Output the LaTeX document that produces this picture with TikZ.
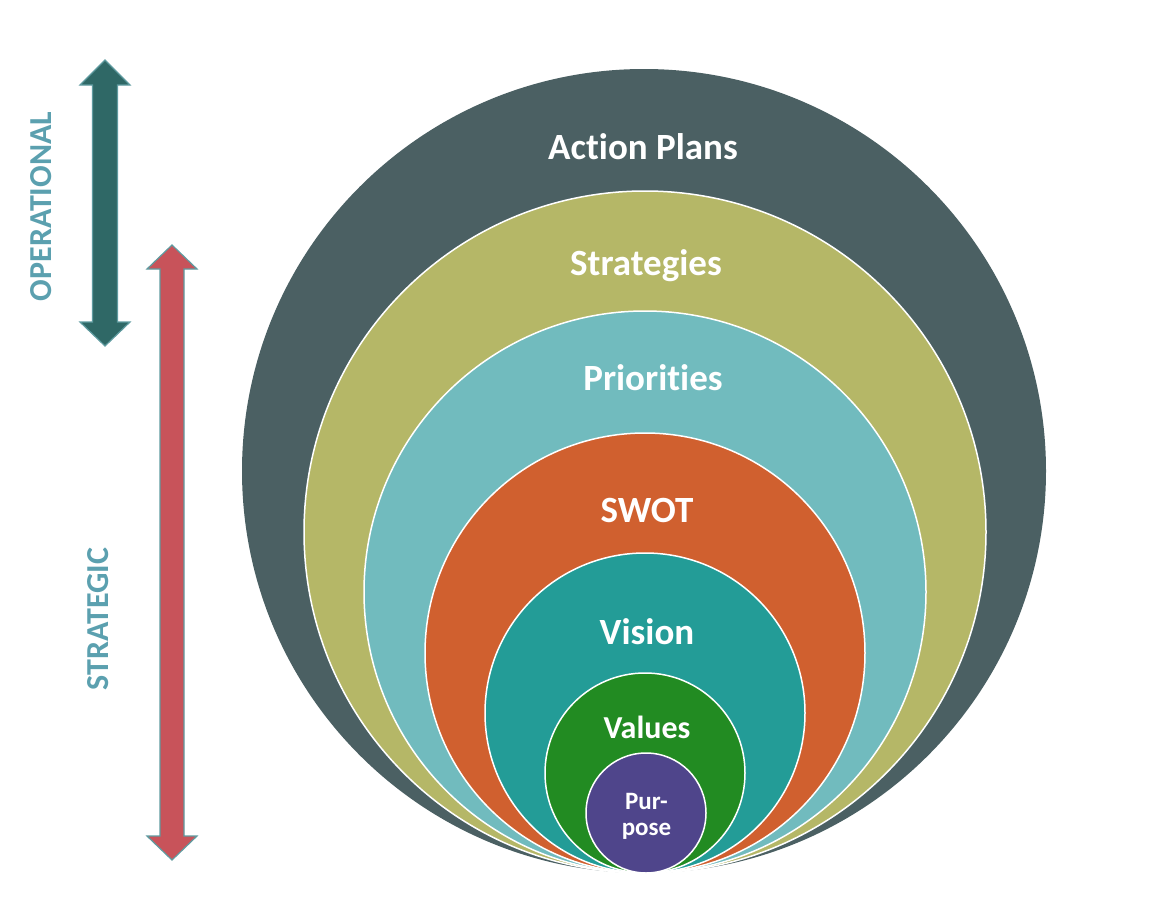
\documentclass[tikz,border=0pt]{standalone}
\usepackage{fontspec}
\setmainfont{Carlito}[Ligatures=NoCommon]
\usepackage{tikz}

\definecolor{actionc}{RGB}{75,96,99}
\definecolor{stratc}{RGB}{181,183,103}
\definecolor{prioc}{RGB}{113,187,190}
\definecolor{swotc}{RGB}{208,96,47}
\definecolor{visionc}{RGB}{35,156,151}
\definecolor{valuesc}{RGB}{34,139,34}
\definecolor{purposec}{RGB}{79,69,139}
\definecolor{sidetext}{RGB}{91,160,175}
\definecolor{operc}{RGB}{47,104,102}
\definecolor{stratarrowc}{RGB}{200,83,90}
\definecolor{arrowedge}{RGB}{95,155,160}

\begin{document}
\begin{tikzpicture}[
    x=1pt, y=-1pt,
    ring/.style={circle, draw=white, line width=1.5pt, inner sep=0pt},
    ringlabel/.style={text=white, anchor=base, inner sep=0pt, font=\bfseries\fontsize{37}{44}\selectfont},
    sidelabel/.style={text=sidetext, rotate=90, inner sep=0pt, font=\bfseries\fontsize{32}{38}\selectfont},
    bigarrow/.style={draw=arrowedge, line width=1.2pt, line join=miter}
]
    \useasboundingbox (0,0) rectangle (1168,911);

    % Nested circles, all touching at the bottom
    \node (action) [ring, draw=none, fill=actionc, minimum size=804pt] at (644,471) {};
    \node (strategies) [ring, fill=stratc, minimum size=682pt] at (645,532) {};
    \node (priorities) [ring, fill=prioc, minimum size=562pt] at (645,592) {};
    \node (swot) [ring, fill=swotc, minimum size=440pt] at (645,653) {};
    \node (vision) [ring, fill=visionc, minimum size=320pt] at (645,713) {};
    \node (values) [ring, fill=valuesc, minimum size=200pt] at (645,773) {};
    \node (purpose) [ring, fill=purposec, minimum size=120pt] at (646,813) {};

    % Labels
    \node (actiontxt) [ringlabel] at (643,159) {Action Plans};
    \node (strategiestxt) [ringlabel] at (646,275) {Strategies};
    \node (prioritiestxt) [ringlabel] at (653,390) {Priorities};
    \node (swottxt) [ringlabel] at (647,522) {SWOT};
    \node (visiontxt) [ringlabel] at (647,644) {Vision};
    \node (valuestxt) [ringlabel, font=\bfseries\fontsize{32}{38}\selectfont] at (647,738) {Values};
    \node (purposetxt) [text=white, align=center, inner sep=0pt, font=\bfseries\fontsize{25}{26}\selectfont] at (646.5,816) {Pur-\\pose};

    % Side arrows
    \draw[bigarrow, fill=operc] (105,60) -- (130,85) -- (117.5,85) -- (117.5,322) -- (130,322)
        -- (105,346) -- (80,322) -- (92.5,322) -- (92.5,85) -- (80,85) -- cycle;
    \draw[bigarrow, fill=stratarrowc] (172,245) -- (197,269) -- (184,269) -- (184,836) -- (197,836)
        -- (172,860) -- (147,836) -- (160,836) -- (160,269) -- (147,269) -- cycle;

    \node (opertxt) [sidelabel] at (41.5,206.5) {OPERATIONAL};
    \node (strattxt) [sidelabel] at (98,619) {STRATEGIC};

\end{tikzpicture}
\end{document}
